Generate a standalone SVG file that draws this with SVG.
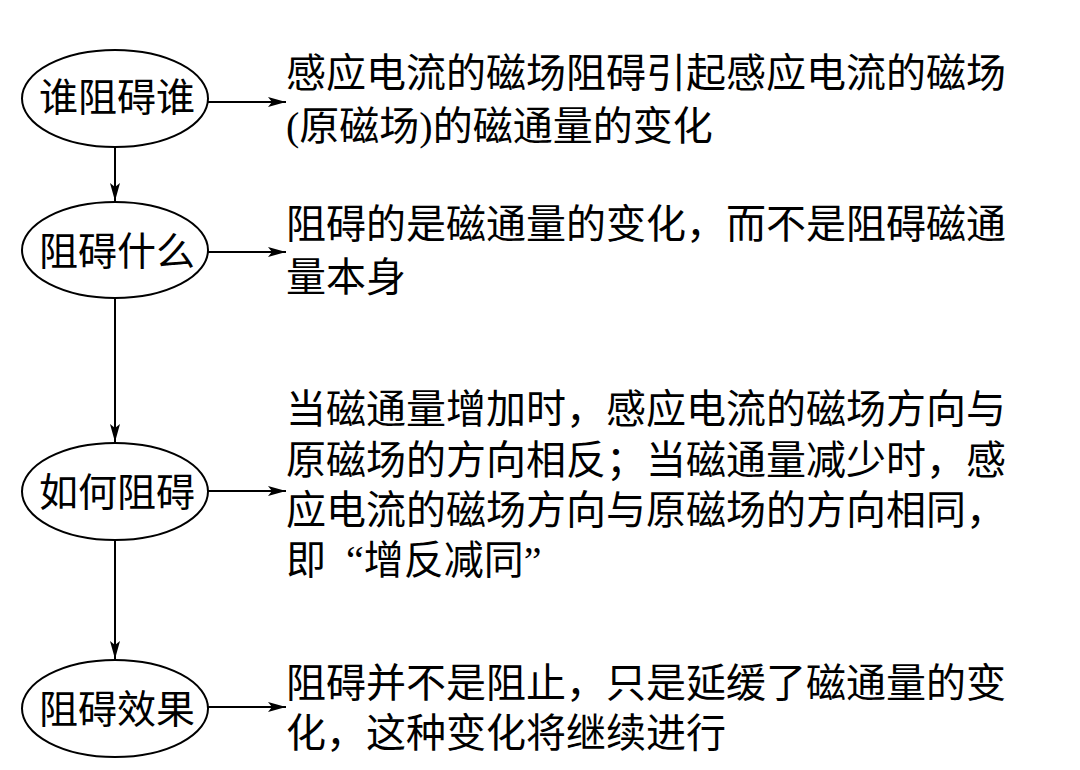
<svg xmlns="http://www.w3.org/2000/svg" width="1080" height="770" viewBox="0 0 1080 770">
<style>
.node ellipse{fill:#fff;stroke:#000;stroke-width:2}
.lbl{font-family:"Liberation Serif","Noto Sans CJK SC",serif;font-size:39px;fill:#000;text-anchor:middle}
.txt{font-family:"Liberation Serif","Noto Sans CJK SC",serif;font-size:40px;fill:#000}
.conn line{stroke:#000;stroke-width:2;fill:none}
</style>
<defs>
<marker id="ah" viewBox="0 0 18 10" refX="18" refY="5" markerWidth="18" markerHeight="10" markerUnits="userSpaceOnUse" orient="auto">
<path d="M0,0 L18,5 L0,10 L4,5 Z" fill="#000"/>
</marker>
</defs>
<rect width="1080" height="770" fill="#fff"/>
<g id="connectors" class="conn">
<line x1="115" y1="147" x2="115" y2="201" marker-end="url(#ah)"/>
<line x1="115" y1="298" x2="115" y2="442" marker-end="url(#ah)"/>
<line x1="115" y1="540" x2="115" y2="659" marker-end="url(#ah)"/>
<line x1="208" y1="102" x2="286" y2="102" marker-end="url(#ah)"/>
<line x1="208" y1="252" x2="286" y2="252" marker-end="url(#ah)"/>
<line x1="208" y1="491" x2="286" y2="491" marker-end="url(#ah)"/>
<line x1="208" y1="707" x2="286" y2="707" marker-end="url(#ah)"/>
</g>
<g id="n1" class="node">
<ellipse cx="115" cy="98.5" rx="93" ry="48.5"/>
<text class="lbl" x="117" y="111">谁阻碍谁</text>
</g>
<g id="n2" class="node">
<ellipse cx="115" cy="250" rx="93" ry="48"/>
<text class="lbl" x="117" y="265">阻碍什么</text>
</g>
<g id="n3" class="node">
<ellipse cx="115" cy="491.5" rx="93" ry="48.5"/>
<text class="lbl" x="117" y="506">如何阻碍</text>
</g>
<g id="n4" class="node">
<ellipse cx="115" cy="708.5" rx="93" ry="48.5"/>
<text class="lbl" x="117" y="723">阻碍效果</text>
</g>
<g id="t1">
<text class="txt" x="286" y="87">感应电流的磁场阻碍引起感应电流的磁场</text>
<text class="txt" x="286" y="140">(原磁场)的磁通量的变化</text>
</g>
<g id="t2">
<text class="txt" x="286" y="238">阻碍的是磁通量的变化，而不是阻碍磁通</text>
<text class="txt" x="286" y="291">量本身</text>
</g>
<g id="t3">
<text class="txt" x="286" y="423">当磁通量增加时，感应电流的磁场方向与</text>
<text class="txt" x="286" y="474">原磁场的方向相反；当磁通量减少时，感</text>
<text class="txt" x="286" y="524">应电流的磁场方向与原磁场的方向相同，</text>
<text class="txt" x="286" y="574">即<tspan dx="20">“</tspan>增反减同”</text>
</g>
<g id="t4">
<text class="txt" x="286" y="697">阻碍并不是阻止，只是延缓了磁通量的变</text>
<text class="txt" x="286" y="747">化，这种变化将继续进行</text>
</g>
</svg>
